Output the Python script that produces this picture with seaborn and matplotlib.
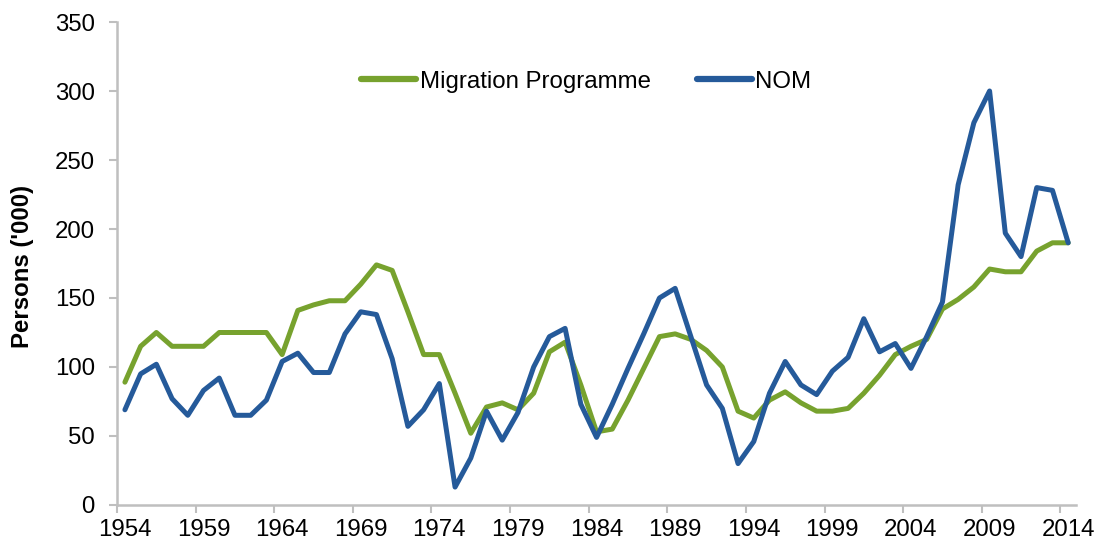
import pandas as pd
import matplotlib.pyplot as plt
import seaborn as sns

# values, persons ('000)
years = list(range(1954, 2015))
migration_programme = [
    89, 115, 125, 115, 115, 115, 125, 125, 125, 125,
    109, 141, 145, 148, 148, 160, 174, 170, 140, 109,
    109, 81, 52, 71, 74, 69, 81, 111, 118, 87,
    53, 55, 76, 99, 122, 124, 120, 112, 100, 68,
    63, 76, 82, 74, 68, 68, 70, 81, 94, 109,
    115, 120, 142, 149, 158, 171, 169, 169, 184, 190,
    190,
]
nom = [
    69, 95, 102, 77, 65, 83, 92, 65, 65, 76,
    104, 110, 96, 96, 124, 140, 138, 106, 57, 69,
    88, 13, 34, 68, 47, 67, 100, 122, 128, 73,
    49, 73, 99, 124, 150, 157, 122, 87, 70, 30,
    46, 81, 104, 87, 80, 97, 107, 135, 111, 117,
    99, 122, 147, 232, 277, 300, 197, 180, 230, 228,
    190,
]
series_names = ["Migration Programme", "NOM"]
label_years = list(range(1954, 2015, 5))

df = pd.DataFrame({
    "year": years * 2,
    "value": migration_programme + nom,
    "series": [series_names[0]] * len(years) + [series_names[1]] * len(years),
})

sns.set_theme(style="white")
plt.rcParams["font.family"] = ["Liberation Sans", "DejaVu Sans"]
plt.rcParams["text.color"] = "black"

fig = plt.figure(figsize=(10.96, 5.46), dpi=100)
ax = fig.add_axes([0.1068, 0.0751, 0.8750, 0.8846])

palette = {"Migration Programme": "#77A22E", "NOM": "#255A9A"}
sns.lineplot(data=df, x="year", y="value", hue="series", palette=palette,
             linewidth=3.6, ax=ax, legend=True)

ax.set_xlim(1953.5, 2014.5)
ax.set_ylim(0, 350)
ax.set_yticks(range(0, 351, 50))

# labels sit on the years, tick marks sit between categories
ax.set_xticks(label_years)
ax.set_xticklabels([str(y) for y in label_years])
ax.set_xticks([y - 0.5 for y in label_years], minor=True)
ax.tick_params(axis="x", which="major", length=0, pad=10, labelsize=17.3, colors="black")
ax.tick_params(axis="x", which="minor", length=6, width=1.5, color="#BFBFBF", bottom=True)
ax.tick_params(axis="y", length=6, width=1.5, color="#BFBFBF", pad=10,
               labelsize=17.3, labelcolor="black", left=True)

for side in ["top", "right"]:
    ax.spines[side].set_visible(False)
for side in ["left", "bottom"]:
    ax.spines[side].set_color("#BFBFBF")
    ax.spines[side].set_linewidth(1.8)

ax.set_xlabel("")
ax.set_ylabel("Persons ('000)", fontsize=17.3, fontweight="bold", color="black")
ax.yaxis.set_label_coords(-0.087, 0.493)

handles, labels = ax.get_legend_handles_labels()
leg = ax.legend(handles, labels, loc="center", bbox_to_anchor=(0.535, 0.85),
                bbox_transform=fig.transFigure, ncol=2, frameon=False,
                fontsize=17.3, handlelength=2.3, handletextpad=0.15,
                columnspacing=1.9)
for line in leg.get_lines():
    line.set_linewidth(4.5)
    line.set_solid_capstyle("round")
for txt in leg.get_texts():
    txt.set_color("black")

fig.savefig("out.png", dpi=100, facecolor="white")
